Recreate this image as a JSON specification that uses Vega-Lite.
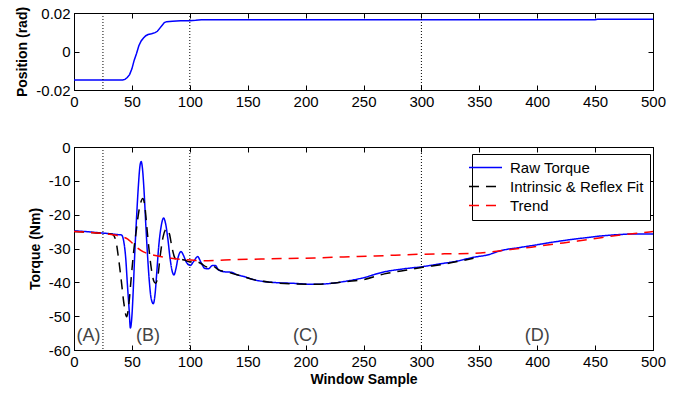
{
  "$schema": "https://vega.github.io/schema/vega-lite/v6.json",
  "padding": {"left": 15, "top": 5, "right": 10, "bottom": 5},
  "bounds": "flush",
  "spacing": 57,
  "config": {
    "font": "Liberation Sans",
    "view": {"stroke": "black", "strokeWidth": 1},
    "axis": {
      "grid": false,
      "domainColor": "black",
      "tickColor": "black",
      "tickSize": -5,
      "labelColor": "black",
      "labelFont": "Liberation Sans",
      "labelFontSize": 15,
      "labelPadding": 9,
      "labelFlush": false,
      "titleColor": "black",
      "titleFont": "Liberation Sans",
      "titleFontSize": 14,
      "titleFontWeight": "bold",
      "titlePadding": 6
    }
  },
  "datasets": {
    "position": [
      {"x": 0, "pos": -0.0148}, {"x": 42, "pos": -0.0148}, {"x": 44, "pos": -0.0145}, {"x": 46, "pos": -0.0135},
      {"x": 48, "pos": -0.012}, {"x": 50, "pos": -0.009}, {"x": 52, "pos": -0.0045}, {"x": 54, "pos": -0.001},
      {"x": 56, "pos": 0.003}, {"x": 58, "pos": 0.0055}, {"x": 60, "pos": 0.007}, {"x": 62, "pos": 0.0082},
      {"x": 64, "pos": 0.0088}, {"x": 67, "pos": 0.0092}, {"x": 70, "pos": 0.0098}, {"x": 72, "pos": 0.0105},
      {"x": 74, "pos": 0.012}, {"x": 76, "pos": 0.0135}, {"x": 78, "pos": 0.015}, {"x": 80, "pos": 0.0155},
      {"x": 85, "pos": 0.0157}, {"x": 92, "pos": 0.016}, {"x": 100, "pos": 0.016}, {"x": 105, "pos": 0.0162},
      {"x": 110, "pos": 0.0165}, {"x": 200, "pos": 0.0165}, {"x": 300, "pos": 0.0165}, {"x": 450, "pos": 0.0165},
      {"x": 452, "pos": 0.0168}, {"x": 500, "pos": 0.0168}
    ],
    "vlines": [{"x": 25}, {"x": 100}, {"x": 300}],
    "regions": [
      {"label": "(A)", "x": 12.5, "y": -56},
      {"label": "(B)", "x": 64, "y": -56},
      {"label": "(C)", "x": 200, "y": -56},
      {"label": "(D)", "x": 400, "y": -56}
    ],
    "torque": [
      {"series": "Raw Torque", "x": 0, "t": -24.8},
      {"series": "Raw Torque", "x": 10, "t": -25.0},
      {"series": "Raw Torque", "x": 20, "t": -25.3},
      {"series": "Raw Torque", "x": 30, "t": -25.6},
      {"series": "Raw Torque", "x": 38, "t": -25.9},
      {"series": "Raw Torque", "x": 41, "t": -26.0},
      {"series": "Raw Torque", "x": 43, "t": -28},
      {"series": "Raw Torque", "x": 44.7, "t": -33},
      {"series": "Raw Torque", "x": 46, "t": -40},
      {"series": "Raw Torque", "x": 47.6, "t": -48},
      {"series": "Raw Torque", "x": 48.7, "t": -53.5},
      {"series": "Raw Torque", "x": 50, "t": -50},
      {"series": "Raw Torque", "x": 51.2, "t": -42},
      {"series": "Raw Torque", "x": 52.4, "t": -32},
      {"series": "Raw Torque", "x": 54, "t": -21},
      {"series": "Raw Torque", "x": 55.5, "t": -12},
      {"series": "Raw Torque", "x": 57, "t": -5.5},
      {"series": "Raw Torque", "x": 58, "t": -4.3},
      {"series": "Raw Torque", "x": 59, "t": -6},
      {"series": "Raw Torque", "x": 60.5, "t": -13},
      {"series": "Raw Torque", "x": 62, "t": -23},
      {"series": "Raw Torque", "x": 63.5, "t": -32},
      {"series": "Raw Torque", "x": 65, "t": -39.5},
      {"series": "Raw Torque", "x": 66.5, "t": -44.5},
      {"series": "Raw Torque", "x": 68.5, "t": -46.3},
      {"series": "Raw Torque", "x": 70, "t": -43.5},
      {"series": "Raw Torque", "x": 71.5, "t": -37},
      {"series": "Raw Torque", "x": 73, "t": -30},
      {"series": "Raw Torque", "x": 75, "t": -24},
      {"series": "Raw Torque", "x": 77.4, "t": -21},
      {"series": "Raw Torque", "x": 79, "t": -22.5},
      {"series": "Raw Torque", "x": 81, "t": -27},
      {"series": "Raw Torque", "x": 83, "t": -33},
      {"series": "Raw Torque", "x": 85, "t": -37},
      {"series": "Raw Torque", "x": 86.3, "t": -37.8},
      {"series": "Raw Torque", "x": 88, "t": -36},
      {"series": "Raw Torque", "x": 90, "t": -32.5},
      {"series": "Raw Torque", "x": 92.4, "t": -30.9},
      {"series": "Raw Torque", "x": 94.5, "t": -32},
      {"series": "Raw Torque", "x": 97, "t": -34},
      {"series": "Raw Torque", "x": 100.5, "t": -35},
      {"series": "Raw Torque", "x": 103, "t": -34},
      {"series": "Raw Torque", "x": 106.8, "t": -32.4},
      {"series": "Raw Torque", "x": 109.5, "t": -34},
      {"series": "Raw Torque", "x": 113, "t": -35.9},
      {"series": "Raw Torque", "x": 116, "t": -36},
      {"series": "Raw Torque", "x": 119.6, "t": -35},
      {"series": "Raw Torque", "x": 122, "t": -35},
      {"series": "Raw Torque", "x": 125, "t": -36.4},
      {"series": "Raw Torque", "x": 130, "t": -36.9},
      {"series": "Raw Torque", "x": 135.6, "t": -37},
      {"series": "Raw Torque", "x": 141, "t": -37.8},
      {"series": "Raw Torque", "x": 147, "t": -38.3},
      {"series": "Raw Torque", "x": 155, "t": -39.2},
      {"series": "Raw Torque", "x": 165, "t": -39.8},
      {"series": "Raw Torque", "x": 175, "t": -40.1},
      {"series": "Raw Torque", "x": 190, "t": -40.3},
      {"series": "Raw Torque", "x": 207, "t": -40.6},
      {"series": "Raw Torque", "x": 222, "t": -40.3},
      {"series": "Raw Torque", "x": 236, "t": -39.6},
      {"series": "Raw Torque", "x": 248, "t": -38.8},
      {"series": "Raw Torque", "x": 268, "t": -36.9},
      {"series": "Raw Torque", "x": 285, "t": -36.0},
      {"series": "Raw Torque", "x": 300, "t": -35.4},
      {"series": "Raw Torque", "x": 315, "t": -34.6},
      {"series": "Raw Torque", "x": 331, "t": -33.7},
      {"series": "Raw Torque", "x": 345, "t": -32.6},
      {"series": "Raw Torque", "x": 357, "t": -31.9},
      {"series": "Raw Torque", "x": 369, "t": -30.6},
      {"series": "Raw Torque", "x": 385, "t": -29.7},
      {"series": "Raw Torque", "x": 398, "t": -29.0},
      {"series": "Raw Torque", "x": 412, "t": -28.2},
      {"series": "Raw Torque", "x": 426, "t": -27.5},
      {"series": "Raw Torque", "x": 440, "t": -26.9},
      {"series": "Raw Torque", "x": 455, "t": -26.3},
      {"series": "Raw Torque", "x": 470, "t": -25.9},
      {"series": "Raw Torque", "x": 484, "t": -25.7},
      {"series": "Raw Torque", "x": 500, "t": -25.7},
      {"series": "Intrinsic & Reflex Fit", "x": 0, "t": -25.0},
      {"series": "Intrinsic & Reflex Fit", "x": 20, "t": -25.4},
      {"series": "Intrinsic & Reflex Fit", "x": 33, "t": -25.8},
      {"series": "Intrinsic & Reflex Fit", "x": 36, "t": -27.5},
      {"series": "Intrinsic & Reflex Fit", "x": 38.5, "t": -33},
      {"series": "Intrinsic & Reflex Fit", "x": 41, "t": -40},
      {"series": "Intrinsic & Reflex Fit", "x": 43, "t": -46},
      {"series": "Intrinsic & Reflex Fit", "x": 45.5, "t": -50.2},
      {"series": "Intrinsic & Reflex Fit", "x": 47.5, "t": -46},
      {"series": "Intrinsic & Reflex Fit", "x": 49.5, "t": -38.3},
      {"series": "Intrinsic & Reflex Fit", "x": 51.5, "t": -31},
      {"series": "Intrinsic & Reflex Fit", "x": 53.5, "t": -25.5},
      {"series": "Intrinsic & Reflex Fit", "x": 56, "t": -19},
      {"series": "Intrinsic & Reflex Fit", "x": 58, "t": -16},
      {"series": "Intrinsic & Reflex Fit", "x": 59.3, "t": -15.2},
      {"series": "Intrinsic & Reflex Fit", "x": 61, "t": -17},
      {"series": "Intrinsic & Reflex Fit", "x": 63, "t": -24},
      {"series": "Intrinsic & Reflex Fit", "x": 65, "t": -31},
      {"series": "Intrinsic & Reflex Fit", "x": 67, "t": -36.5},
      {"series": "Intrinsic & Reflex Fit", "x": 68.8, "t": -39.5},
      {"series": "Intrinsic & Reflex Fit", "x": 70.5, "t": -40.3},
      {"series": "Intrinsic & Reflex Fit", "x": 72.5, "t": -38},
      {"series": "Intrinsic & Reflex Fit", "x": 74.5, "t": -32},
      {"series": "Intrinsic & Reflex Fit", "x": 77, "t": -26.5},
      {"series": "Intrinsic & Reflex Fit", "x": 80, "t": -24.2},
      {"series": "Intrinsic & Reflex Fit", "x": 82.5, "t": -25.8},
      {"series": "Intrinsic & Reflex Fit", "x": 84.5, "t": -29.5},
      {"series": "Intrinsic & Reflex Fit", "x": 86.6, "t": -32.4},
      {"series": "Intrinsic & Reflex Fit", "x": 89, "t": -33.5},
      {"series": "Intrinsic & Reflex Fit", "x": 92, "t": -33.2},
      {"series": "Intrinsic & Reflex Fit", "x": 95.3, "t": -33.4},
      {"series": "Intrinsic & Reflex Fit", "x": 100, "t": -34.0},
      {"series": "Intrinsic & Reflex Fit", "x": 105, "t": -33.8},
      {"series": "Intrinsic & Reflex Fit", "x": 110, "t": -34.5},
      {"series": "Intrinsic & Reflex Fit", "x": 115, "t": -35.5},
      {"series": "Intrinsic & Reflex Fit", "x": 120, "t": -35.3},
      {"series": "Intrinsic & Reflex Fit", "x": 125, "t": -36.3},
      {"series": "Intrinsic & Reflex Fit", "x": 135, "t": -37.2},
      {"series": "Intrinsic & Reflex Fit", "x": 145, "t": -38.2},
      {"series": "Intrinsic & Reflex Fit", "x": 155, "t": -39.2},
      {"series": "Intrinsic & Reflex Fit", "x": 170, "t": -40.0},
      {"series": "Intrinsic & Reflex Fit", "x": 190, "t": -40.5},
      {"series": "Intrinsic & Reflex Fit", "x": 210, "t": -40.6},
      {"series": "Intrinsic & Reflex Fit", "x": 225, "t": -40.2},
      {"series": "Intrinsic & Reflex Fit", "x": 235, "t": -39.8},
      {"series": "Intrinsic & Reflex Fit", "x": 250, "t": -39.2},
      {"series": "Intrinsic & Reflex Fit", "x": 268, "t": -37.5},
      {"series": "Intrinsic & Reflex Fit", "x": 285, "t": -36.5},
      {"series": "Intrinsic & Reflex Fit", "x": 300, "t": -35.6},
      {"series": "Intrinsic & Reflex Fit", "x": 320, "t": -34.6},
      {"series": "Intrinsic & Reflex Fit", "x": 335, "t": -33.6},
      {"series": "Intrinsic & Reflex Fit", "x": 345, "t": -32.9},
      {"series": "Trend", "x": 0, "t": -25.0},
      {"series": "Trend", "x": 20, "t": -25.4},
      {"series": "Trend", "x": 35, "t": -26.0},
      {"series": "Trend", "x": 42, "t": -26.6},
      {"series": "Trend", "x": 46.4, "t": -27.2},
      {"series": "Trend", "x": 50, "t": -28.3},
      {"series": "Trend", "x": 55, "t": -29.9},
      {"series": "Trend", "x": 60, "t": -31.0},
      {"series": "Trend", "x": 63.6, "t": -31.5},
      {"series": "Trend", "x": 72.3, "t": -32.2},
      {"series": "Trend", "x": 83.8, "t": -32.9},
      {"series": "Trend", "x": 101, "t": -33.4},
      {"series": "Trend", "x": 110, "t": -33.6},
      {"series": "Trend", "x": 130, "t": -33.4},
      {"series": "Trend", "x": 161.5, "t": -33.1},
      {"series": "Trend", "x": 207.5, "t": -32.8},
      {"series": "Trend", "x": 233, "t": -32.5},
      {"series": "Trend", "x": 260, "t": -32.2},
      {"series": "Trend", "x": 300, "t": -31.7},
      {"series": "Trend", "x": 345, "t": -31.4},
      {"series": "Trend", "x": 360, "t": -31.0},
      {"series": "Trend", "x": 377, "t": -30.3},
      {"series": "Trend", "x": 395, "t": -29.6},
      {"series": "Trend", "x": 412, "t": -28.8},
      {"series": "Trend", "x": 435, "t": -27.8},
      {"series": "Trend", "x": 455, "t": -26.8},
      {"series": "Trend", "x": 475, "t": -25.9},
      {"series": "Trend", "x": 497, "t": -25.1},
      {"series": "Trend", "x": 500, "t": -25.0}
    ]
  },
  "resolve": {
    "scale": {"color": "independent", "strokeDash": "independent"},
    "legend": {"color": "independent", "strokeDash": "independent"}
  },
  "vconcat": [
    {
      "width": 579,
      "height": 77,
      "resolve": {"axis": {"x": "independent", "y": "independent"}},
      "layer": [
        {
          "data": {"name": "position"},
          "mark": {"type": "line", "color": "#0000ff", "strokeWidth": 1.5},
          "encoding": {
            "x": {"field": "x", "type": "quantitative", "scale": {"domain": [0, 500], "nice": false, "zero": false},
                  "axis": {"values": [0, 50, 100, 150, 200, 250, 300, 350, 400, 450, 500], "title": null}},
            "y": {"field": "pos", "type": "quantitative", "scale": {"domain": [-0.02, 0.02], "nice": false, "zero": false},
                  "axis": {"values": [-0.02, 0, 0.02], "title": "Position (rad)", "labelExpr": "datum.value == 0 ? '0' : replace(format(datum.value, '.2f'), '\u2212', '-')"}}
          }
        },
        {
          "data": {"name": "vlines"},
          "mark": {"type": "rule", "color": "black", "strokeWidth": 1, "strokeDash": [1, 2]},
          "encoding": {
            "x": {"field": "x", "type": "quantitative", "scale": {"domain": [0, 500], "nice": false, "zero": false},
                  "axis": {"orient": "top", "values": [0, 50, 100, 150, 200, 250, 300, 350, 400, 450, 500], "labels": false, "title": null}}
          }
        },
        {
          "data": {"name": "position"},
          "mark": {"type": "line", "opacity": 0},
          "encoding": {
            "x": {"field": "x", "type": "quantitative", "axis": null},
            "y": {"field": "pos", "type": "quantitative", "axis": {"orient": "right", "values": [-0.02, 0, 0.02], "labels": false, "title": null}}
          }
        }
      ]
    },
    {
      "width": 579,
      "height": 203,
      "resolve": {"axis": {"x": "independent", "y": "independent"}},
      "layer": [
        {
          "data": {"name": "torque"},
          "mark": {"type": "line", "strokeWidth": 1.5, "interpolate": "monotone"},
          "encoding": {
            "x": {"field": "x", "type": "quantitative", "scale": {"domain": [0, 500], "nice": false, "zero": false},
                  "axis": {"values": [0, 50, 100, 150, 200, 250, 300, 350, 400, 450, 500], "title": "Window Sample", "titlePadding": 3}},
            "y": {"field": "t", "type": "quantitative", "scale": {"domain": [-60, 0], "nice": false, "zero": false},
                  "axis": {"values": [-60, -50, -40, -30, -20, -10, 0], "title": "Torque (Nm)", "labelExpr": "replace(datum.label, '\u2212', '-')"}},
            "color": {"field": "series", "type": "nominal",
                      "scale": {"domain": ["Raw Torque", "Intrinsic & Reflex Fit", "Trend"], "range": ["#0000ff", "#000000", "#ff0000"]},
                      "legend": {"title": null, "orient": "none", "legendX": 398, "legendY": 7, "symbolType": "M-3.3,0H3.3", "symbolSize": 100,
                                 "symbolStrokeWidth": 1.5, "labelFontSize": 15, "labelColor": "black", "labelFont": "Liberation Sans",
                                 "strokeColor": "black", "fillColor": "white", "padding": 6, "rowPadding": 3, "labelOffset": 17}},
            "strokeDash": {"field": "series", "type": "nominal",
                      "scale": {"domain": ["Raw Torque", "Intrinsic & Reflex Fit", "Trend"], "range": [[1, 0], [10, 7], [10, 7]]},
                      "legend": {"title": null, "orient": "none", "legendX": 398, "legendY": 7, "symbolType": "M-3.3,0H3.3", "symbolSize": 100,
                                 "symbolStrokeWidth": 1.5, "labelFontSize": 15, "labelColor": "black", "labelFont": "Liberation Sans",
                                 "strokeColor": "black", "fillColor": "white", "padding": 6, "rowPadding": 3, "labelOffset": 17}}
          }
        },
        {
          "data": {"name": "vlines"},
          "mark": {"type": "rule", "color": "black", "strokeWidth": 1, "strokeDash": [1, 2]},
          "encoding": {
            "x": {"field": "x", "type": "quantitative", "scale": {"domain": [0, 500], "nice": false, "zero": false},
                  "axis": {"orient": "top", "values": [0, 50, 100, 150, 200, 250, 300, 350, 400, 450, 500], "labels": false, "title": null}}
          }
        },
        {
          "data": {"name": "regions"},
          "mark": {"type": "text", "fontSize": 18, "color": "#444444", "font": "Liberation Sans", "baseline": "middle", "align": "center"},
          "encoding": {
            "x": {"field": "x", "type": "quantitative", "axis": null},
            "y": {"field": "y", "type": "quantitative", "axis": {"orient": "right", "values": [-60, -50, -40, -30, -20, -10, 0], "labels": false, "title": null}},
            "text": {"field": "label"}
          }
        }
      ]
    }
  ]
}
